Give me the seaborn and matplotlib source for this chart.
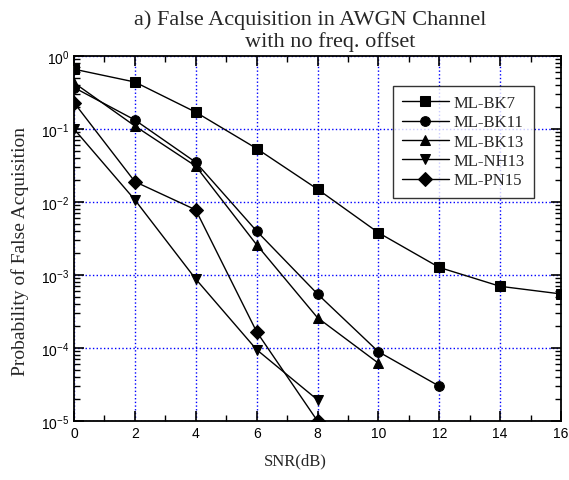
import numpy as np
import pandas as pd
import matplotlib
matplotlib.use("Agg")
import matplotlib.pyplot as plt
import seaborn as sns
from matplotlib.ticker import LogLocator, MultipleLocator, NullFormatter

snr = [0, 2, 4, 6, 8, 10, 12, 14, 16]
bk7 = [0.66, 0.44, 0.17, 0.054, 0.015, 0.0038, 0.00127, 0.0007, 0.00055]
bk11 = [0.37, 0.133, 0.035, 0.004, 0.00055, 0.000089, 0.00003]
bk13 = [0.43, 0.11, 0.031, 0.0026, 0.00026, 0.000062]
nh13 = [0.1, 0.0107, 0.00088, 0.000095, 0.0000195]
pn15 = [0.23, 0.019, 0.0078, 0.000167, 0.00001]
names = ["ML-BK7", "ML-BK11", "ML-BK13", "ML-NH13", "ML-PN15"]
series = [bk7, bk11, bk13, nh13, pn15]
marks = ["s", "o", "^", "v", "D"]

rows = []
for n, s in zip(names, series):
    for x, v in zip(snr, s):
        rows.append({"SNR": x, "P": v, "code": n})
df = pd.DataFrame(rows)

sns.set_theme(style="ticks")
plt.rcParams["font.family"] = ["Liberation Serif", "DejaVu Serif"]

fig = plt.figure(figsize=(5.69, 4.81), dpi=100)
ax = fig.add_axes([74/569, 1 - 422/481, (561-74)/569, (422-57)/481])

sns.lineplot(data=df, x="SNR", y="P", hue="code", style="code",
             hue_order=names, style_order=names,
             palette=["black"]*5, markers=dict(zip(names, marks)),
             dashes=False, markersize=7, linewidth=1, markeredgecolor="black",
             ax=ax, legend=True)
for ln in ax.lines:
    ln.set_clip_on(True)
    ln.set_clip_path(ax.patch)

ax.set_yscale("log")
ax.set_xlim(0, 16)
ax.set_ylim(1e-5, 1)
ax.xaxis.set_major_locator(MultipleLocator(2))
ax.xaxis.set_minor_locator(MultipleLocator(1))
ax.yaxis.set_major_locator(LogLocator(base=10, numticks=10))
ax.yaxis.set_minor_locator(LogLocator(base=10, subs=np.arange(2, 10), numticks=20))
ax.yaxis.set_minor_formatter(NullFormatter())
ax.grid(True, which="major", color="#0000ff", linestyle=":", linewidth=1)
ax.tick_params(which="both", direction="in", top=True, right=True, colors="black")
ax.tick_params(which="major", length=7, width=1.2)
ax.tick_params(which="minor", length=4, width=1)
for lab in ax.get_xticklabels() + ax.get_yticklabels():
    lab.set_fontfamily("Liberation Sans")
    lab.set_fontsize(10)
for sp in ax.spines.values():
    sp.set_linewidth(1.3)
    sp.set_color("black")

ax.set_xlabel("")
ax.set_ylabel("")
fig.text(295/569, 1 - 465/481, "SNR(dB)", ha="center", va="baseline", fontsize=12)
fig.text(20/569, 1 - 251/481, "Probability of False Acquisition",
         ha="center", va="center", rotation=90, fontsize=14)

leg = ax.legend(loc="upper right", bbox_to_anchor=((534-74)/487, (422-87)/365),
                borderaxespad=0, fontsize=12,
                frameon=True, fancybox=False, edgecolor="black",
                handlelength=2.8, handletextpad=0.3, borderpad=0.55,
                labelspacing=0.2)
leg.get_frame().set_linewidth(1)

fig.text(310/569, 1 - 25/481, "a) False Acquisition in AWGN Channel",
         ha="center", va="baseline", fontsize=16)
fig.text(330/569, 1 - 47/481, "with no freq. offset",
         ha="center", va="baseline", fontsize=16)

fig.savefig("out.png", dpi=100)
